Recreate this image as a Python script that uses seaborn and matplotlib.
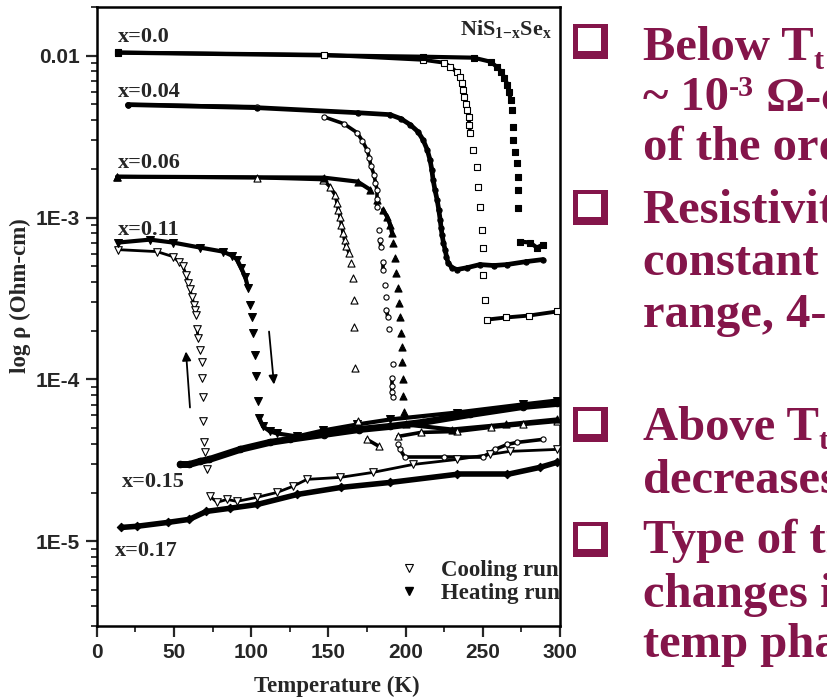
import numpy as np
import pandas as pd
import matplotlib
matplotlib.use("Agg")
import matplotlib.pyplot as plt
import seaborn as sns
from matplotlib.collections import LineCollection
from matplotlib.lines import Line2D
from matplotlib.patches import Rectangle
import matplotlib.ticker as mticker

# ---------------------------------------------------------------
# Resistivity of NiS(1-x)Se(x): temperature (K) and log10(rho / Ohm-cm)
# ---------------------------------------------------------------
T_x000_cool = [14, 147, 211, 225, 229, 233, 235, 236.5, 237, 238, 239, 240, 240.8, 241.3, 241.7,
               243.6, 246.3, 246.9, 248.2, 249.5, 250.2, 250.2, 251.5, 252.8, 265, 280, 298]
L_x000_cool = [-1.98, -1.994, -2.025, -2.043, -2.068, -2.099, -2.130, -2.167, -2.210, -2.253, -2.296,
               -2.333, -2.377, -2.426, -2.475,
               -2.580, -2.685, -2.809, -2.932, -3.074, -3.185, -3.352, -3.506, -3.630, -3.617, -3.605, -3.58]

T_x000_heat = [14, 211, 244, 255, 259, 262, 264, 266, 267, 268,
               269, 269.6, 269.6, 270.9, 272.2, 272.8, 272.8, 272.8, 274, 280.6, 285, 289]
L_x000_heat = [-1.981, -2.006, -2.012, -2.037, -2.068, -2.099, -2.136, -2.179, -2.222, -2.272,
               -2.333, -2.438, -2.519, -2.593, -2.660, -2.747, -2.827, -2.938, -3.148, -3.154, -3.185, -3.167]

T_x004_cool = [20, 104, 147, 160, 168.6, 172, 175, 176.5, 177.5, 179.6, 180.5, 181.5, 181.5, 181.5,
               182.8, 183.4, 184, 185.4, 185.4, 186.7, 187.5, 187.5, 188.6, 189.5, 191.9, 191.2, 191.2, 191.2, 191.9,
               195.1, 196.4, 199.6, 225, 250, 258, 266, 272, 289]
L_x004_cool = [-2.302, -2.315, -2.377, -2.420, -2.475, -2.525, -2.580, -2.630, -2.679, -2.735, -2.784, -2.827, -2.883, -2.932,
               -3.074, -3.136, -3.179, -3.272, -3.321, -3.414, -3.488, -3.568, -3.617, -3.691, -3.907, -3.988, -4.043, -4.080, -4.111,
               -4.401, -4.432, -4.481, -4.481, -4.481, -4.432, -4.401, -4.389, -4.370]

T_x004_heat = [20, 104, 169, 190, 197, 203, 208, 211.3, 214, 215.8, 217, 217.8, 219, 220.4, 221.5,
               222.4, 223, 223.6, 224.5, 225.6, 226.5, 227.5, 230, 233.3, 240, 248.2, 257, 265.7, 278, 289]
L_x004_heat = [-2.302, -2.321, -2.352, -2.364, -2.389, -2.426, -2.469, -2.519, -2.580, -2.642, -2.704, -2.765, -2.827,
               -2.889, -2.951, -3.012, -3.062, -3.105, -3.154, -3.198, -3.241, -3.278, -3.309, -3.321, -3.309, -3.290,
               -3.296, -3.290, -3.272, -3.259]

T_x006_cool = [13.2, 103.8, 146.6, 151, 154.3, 155.6, 156.5, 157.6, 158.5, 159.5, 160.5, 161.5, 163.4, 164.7, 166,
               166.6, 166.6, 167.3, 169,
               175, 183, 195, 210, 233, 255, 276, 298]
L_x006_cool = [-2.747, -2.753, -2.765, -2.809, -2.858, -2.907, -2.951, -2.994, -3.043, -3.093, -3.136, -3.173, -3.216,
               -3.278, -3.370, -3.506, -3.673, -3.926, -4.259,
               -4.370, -4.414, -4.352, -4.327, -4.321, -4.296, -4.278, -4.259]

T_x006_heat = [13.2, 147, 169, 177, 181.5, 185.4, 188, 190, 191.2, 192,
               193.2, 193.8, 195, 195.8, 196.4, 197, 197.7, 197.7, 198.3, 198.3, 199,
               200, 230, 265, 298]
L_x006_heat = [-2.747, -2.753, -2.778, -2.827, -2.889, -2.951, -2.994, -3.043, -3.093, -3.154,
               -3.247, -3.340, -3.432, -3.525, -3.617, -3.710, -3.802, -3.895, -4.0, -4.105, -4.198,
               -4.278, -4.309, -4.278, -4.247]

T_x011_cool = [14, 39, 49.4, 53, 55.9, 57.9, 59.1, 60.4, 61.7, 63, 63.7, 64.4,
               65, 65.6, 66.9, 68.2, 68.2, 68.8, 68.8, 69.5, 70.2, 71.4, 73.4,
               77.9, 84.4, 90.9, 103.8, 116.7, 127.1, 136.2, 157.6, 178.9, 204.8, 233.3, 254.6, 267.6, 298]
L_x011_cool = [-3.198, -3.210, -3.241, -3.272, -3.302, -3.352, -3.401, -3.444, -3.488, -3.537, -3.568, -3.599,
               -3.691, -3.741, -3.815, -3.889, -3.988, -4.111, -4.259, -4.389, -4.451, -4.556, -4.722,
               -4.759, -4.741, -4.753, -4.728, -4.698, -4.660, -4.617, -4.605, -4.574, -4.525, -4.494, -4.463, -4.444, -4.432]

T_x011_heat = [14, 34.5, 49.4, 66.9, 81.8, 87.6, 90.9, 93.5, 96.1, 98,
               99.3, 100.6, 101.2, 102.5, 103.2, 104.4, 105.1,
               107.7, 112.2, 116.7, 129.7, 146.6, 168.6, 190, 233.3, 276, 298]
L_x011_heat = [-3.154, -3.136, -3.154, -3.185, -3.210, -3.235, -3.259, -3.309, -3.364, -3.432,
               -3.537, -3.611, -3.710, -3.846, -3.981, -4.136, -4.235,
               -4.290, -4.321, -4.333, -4.352, -4.315, -4.278, -4.247, -4.204, -4.154, -4.130]

T_x015 = [54, 60, 67, 73, 93, 112, 125, 147, 170, 190, 211, 242, 276, 298]
L_x015 = [-4.525, -4.525, -4.506, -4.494, -4.432, -4.389, -4.370, -4.340, -4.309, -4.290, -4.265, -4.216, -4.167, -4.148]

T_x017 = [16, 26, 46, 60, 71, 86, 104, 130, 158, 190, 233, 266, 287, 298]
L_x017 = [-4.914, -4.907, -4.883, -4.864, -4.815, -4.796, -4.772, -4.710, -4.667, -4.636, -4.586, -4.586, -4.543, -4.512]

composition_labels = ["x=0.0", "x=0.04", "x=0.06", "x=0.11", "x=0.15", "x=0.17"]
y_tick_values = [1e-5, 1e-4, 1e-3, 1e-2]
y_tick_labels = ["1E-5", "1E-4", "1E-3", "0.01"]
x_tick_values = [0, 50, 100, 150, 200, 250, 300]

# Bullet text: each line is a list of (text, role) pieces; role is
# "n" normal, "sub" subscript, "sup" superscript.
bullet_lines = [
    [[("Below T", "n"), ("t", "sub"), (" resistivity is", "n")],
     [("~ 10", "n"), ("-3", "sup"), (" Ω-cm, which is", "n")],
     [("of the order of metals", "n")]],
    [[("Resistivity is nearly", "n")],
     [("constant in the low temp", "n")],
     [("range, 4-100 K", "n")]],
    [[("Above T", "n"), ("t", "sub"), (" resistivity", "n")],
     [("decreases with x", "n")]],
    [[("Type of transition", "n")],
     [("changes in the high", "n")],
     [("temp phase", "n")]],
]

# ---------------------------------------------------------------
sns.set_theme(style="ticks")
plt.rcParams["font.family"] = ["Liberation Serif", "DejaVu Serif"]
plt.rcParams["font.weight"] = "bold"
plt.rcParams["mathtext.fontset"] = "custom"
plt.rcParams["mathtext.rm"] = "Liberation Serif:bold"
plt.rcParams["mathtext.it"] = "Liberation Serif:bold:italic"
plt.rcParams["mathtext.bf"] = "Liberation Serif:bold"

W, H = 827, 699
fig = plt.figure(figsize=(W / 100, H / 100), dpi=100)
fig.patch.set_facecolor("white")

ax_l, ax_r, ax_t, ax_b = 96.7, 560.0, 7.0, 626.0
ax = fig.add_axes([ax_l / W, 1 - ax_b / H, (ax_r - ax_l) / W, (ax_b - ax_t) / H])
ax.set_facecolor("white")


def draw_series(T, logr, marker, filled, size, gap, lw):
    T = np.asarray(T, float)
    logr = np.asarray(logr, float)
    rho = 10.0 ** logr
    jumps = np.abs(np.diff(logr))
    segs = [[(T[i], rho[i]), (T[i + 1], rho[i + 1])]
            for i in range(len(T) - 1) if jumps[i] < gap]
    if segs:
        ax.add_collection(LineCollection(segs, colors="black", linewidths=lw,
                                         capstyle="round", zorder=2))
    df = pd.DataFrame({"T": T, "rho": rho})
    sns.scatterplot(data=df, x="T", y="rho", ax=ax, marker=marker, s=size,
                    color="black" if filled else "white", edgecolor="black",
                    linewidth=0.8, zorder=3, legend=False)


ax.set_yscale("log")
draw_series(T_x017, L_x017, "D", True, 18, 0.08, 4.0)
draw_series(T_x015, L_x015, "o", True, 22, 0.08, 5.0)
draw_series(T_x011_cool, L_x011_cool, "v", False, 30, 0.055, 2.0)
draw_series(T_x011_heat, L_x011_heat, "v", True, 32, 0.07, 3.0)
draw_series(T_x006_cool, L_x006_cool, "^", False, 26, 0.05, 2.6)
draw_series(T_x006_heat, L_x006_heat, "^", True, 26, 0.06, 3.0)
draw_series(T_x004_cool, L_x004_cool, "o", False, 14, 0.06, 2.6)
draw_series(T_x004_heat, L_x004_heat, "o", True, 14, 0.07, 3.4)
draw_series(T_x000_cool, L_x000_cool, "s", False, 13, 0.085, 2.8)
draw_series(T_x000_heat, L_x000_heat, "s", True, 14, 0.055, 3.0)

ax.set_xlim(0, 300)
ax.set_ylim(3e-6, 0.02)

# axes, ticks and labels
tick_font = {"family": "Liberation Sans", "weight": "bold", "size": 15}
ax.xaxis.set_major_locator(mticker.FixedLocator(x_tick_values))
ax.xaxis.set_minor_locator(mticker.MultipleLocator(25))
ax.yaxis.set_major_locator(mticker.FixedLocator(y_tick_values))
ax.yaxis.set_major_formatter(mticker.FixedFormatter(y_tick_labels))
ax.yaxis.set_minor_locator(mticker.LogLocator(base=10, subs=np.arange(2, 10)))
ax.yaxis.set_minor_formatter(mticker.NullFormatter())
ax.tick_params(which="major", direction="out", length=8, width=1.6, pad=4,
               top=False, right=False)
ax.tick_params(which="minor", direction="out", length=4.5, width=1.3,
               top=False, right=False)
for lab in ax.get_xticklabels() + ax.get_yticklabels():
    lab.set_fontproperties(tick_font)
for sp in ax.spines.values():
    sp.set_linewidth(1.8)
    sp.set_color("black")
    sp.set_visible(True)

ax.set_xlabel("Temperature (K)", fontsize=16.5, fontweight="bold")
ax.set_ylabel("log ρ (Ohm-cm)", fontsize=16.5, fontweight="bold")
ax.xaxis.set_label_coords(0.519, -0.080)
ax.yaxis.set_label_coords(-0.142, 0.533)

# composition labels
label_pos = [(14, -1.883), (14, -2.222), (14, -2.660), (14, -3.074), (16.4, -4.636), (11.9, -5.062)]
for txt, (tx, ly) in zip(composition_labels, label_pos):
    ax.text(tx, 10 ** ly, txt, fontsize=16, fontweight="bold", ha="left", va="center")
ax.text(295, 10 ** -1.870, r"NiS$_{\mathrm{1{-}x}}$Se$_{\mathrm{x}}$",
        fontsize=16, fontweight="bold", ha="right", va="baseline")

# arrows for cooling / heating direction
arrow_kw = dict(arrowstyle="-|>", color="black", lw=1.3, mutation_scale=13, shrinkA=0, shrinkB=0)
ax.annotate("", xy=(57.8, 10 ** -3.827), xytext=(60.4, 10 ** -4.173), arrowprops=arrow_kw)
ax.annotate("", xy=(114.8, 10 ** -4.031), xytext=(111.6, 10 ** -3.704), arrowprops=arrow_kw)

# legend
handles = [
    Line2D([], [], linestyle="none", marker="v", markersize=6, mfc="white", mec="black", mew=0.8,
           label="Cooling run"),
    Line2D([], [], linestyle="none", marker="v", markersize=6, mfc="black", mec="black",
           label="Heating run"),
]
ax.legend(handles=handles, loc="lower right", bbox_to_anchor=(1.0, 0.035), frameon=False,
          prop={"family": "Liberation Serif", "weight": "bold", "size": 16.5},
          handlelength=1.0, handletextpad=0.9, labelspacing=0.1, borderaxespad=0, borderpad=0)

# bullet points on the right
maroon = "#84154A"
main_size = 35
renderer = fig.canvas.get_renderer()


def rich_line(x_px, base_px, pieces):
    x = x_px
    for s, role in pieces:
        size, dy = main_size, 0
        if role == "sub":
            size, dy = main_size * 0.62, -9
        elif role == "sup":
            size, dy = main_size * 0.62, 14
        t = fig.text(x / W, 1 - (base_px - dy) / H, s, color=maroon, fontsize=size,
                     fontweight="bold", family="Liberation Serif", ha="left", va="baseline")
        x = t.get_window_extent(renderer).x1


bullet_tops = [24, 190, 407, 522]
line_baselines = [[60, 110, 160], [223, 275, 327], [440, 493], [553, 607, 657]]
for top, baselines, lines in zip(bullet_tops, line_baselines, bullet_lines):
    bx, size = 573, 35
    fig.patches.append(Rectangle((bx / W, 1 - (top + size) / H), size / W, size / H,
                                 transform=fig.transFigure, facecolor=maroon, edgecolor="none"))
    fig.patches.append(Rectangle(((bx + 5) / W, 1 - (top + size - 8) / H), (size - 12) / W, (size - 12) / H,
                                 transform=fig.transFigure, facecolor="white", edgecolor="none"))
    for yb, pieces in zip(baselines, lines):
        rich_line(643, yb, pieces)

fig.savefig("out.png", dpi=100, facecolor="white")
